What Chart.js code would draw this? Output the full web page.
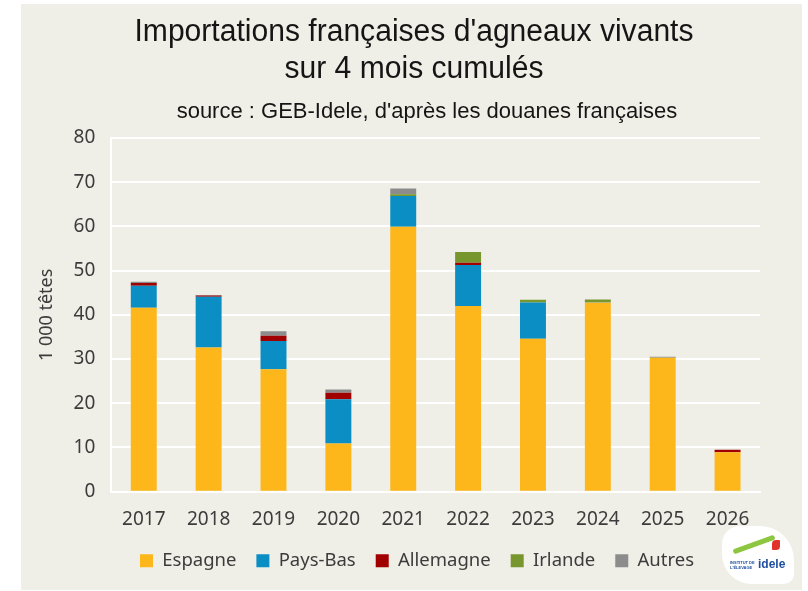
<!DOCTYPE html>
<html>
<head>
<meta charset="utf-8">
<script src="https://cdn.jsdelivr.net/npm/chart.js@4.4.1/dist/chart.umd.min.js"></script>
<style>
  body { margin: 0; background: #fff; }
  #panel { position: absolute; left: 21px; top: 4px; width: 781px; height: 586px; background: #efefe7; }
  .ttl { position: absolute; white-space: nowrap; color: #151515; font-family: 'Liberation Sans', sans-serif;
         transform: translateX(-50%) scaleX(0.97); }
  #t1 { left: 414px; top: 13px; font-size: 31px; }
  #t2 { left: 414px; top: 50px; font-size: 31px; }
  #t3 { left: 427px; top: 98px; font-size: 22px; transform: translateX(-50%); }
  #logo { position: absolute; left: 722px; top: 526px; width: 72px; height: 58px; background: #fff;
          border-radius: 18px 34px 10px 30px; font: bold 12px 'Liberation Sans', sans-serif; color: #1f4fa0; }
  #logo span { position: absolute; left: 36px; top: 31px; }
  #logo i { position: absolute; left: 10px; top: 16px; width: 44px; height: 5px; background: #8dc63f;
            transform: rotate(-20deg); border-radius: 3px; }
  #logo b { position: absolute; left: 50px; top: 14px; width: 8px; height: 10px; background: #e0312b; border-radius: 4px 1px; }
  #logo em { position: absolute; left: 8px; top: 34px; font: bold 4px 'Liberation Sans', sans-serif; color: #1f4fa0; font-style: normal; }
</style>
</head>
<body>
<div id="panel"><canvas id="c" width="781" height="586"></canvas></div>
<div class="ttl" id="t1">Importations françaises d'agneaux vivants</div>
<div class="ttl" id="t2">sur 4 mois cumulés</div>
<div class="ttl" id="t3">source : GEB-Idele, d'après les douanes françaises</div>
<div id="logo"><i></i><b></b><em>INSTITUT DE<br>L'ÉLEVAGE</em><span>idele</span></div>
<script>
// --- Data ---
const years = ['2017', '2018', '2019', '2020', '2021', '2022', '2023', '2024', '2025', '2026'];
const espagne   = [41.6, 32.6, 27.7, 10.9, 59.9, 42.0, 34.6, 42.8, 30.3, 8.9];
const paysBas   = [5.0, 11.5, 6.4, 10.0, 7.0, 9.3, 8.2, 0.1, 0, 0];
const allemagne = [0.6, 0.3, 1.2, 1.5, 0, 0.5, 0, 0, 0, 0.6];
const irlande   = [0, 0, 0, 0, 0.4, 2.4, 0.6, 0.6, 0, 0];
const autres    = [0.3, 0.1, 1.0, 0.7, 1.3, 0, 0, 0, 0.2, 0];

const seriesNames = ['Espagne', 'Pays-Bas', 'Allemagne', 'Irlande', 'Autres'];
const seriesColors = ['#fdb71a', '#0b8ec4', '#a00000', '#77962d', '#8c8c8c'];
const seriesData = [espagne, paysBas, allemagne, irlande, autres];

const textColor = '#3c3c3c';
const tickFont = { family: "'Noto Sans', sans-serif", size: 19 };

// nudge the legend so it sits where the original has it
const legendShift = {
    id: 'legendShift',
    afterLayout(chart) {
        const lg = chart.legend;
        lg.left += 21; lg.right += 21;
        lg.top -= 7; lg.bottom -= 7;
    }
};

const ctx = document.getElementById('c').getContext('2d');

new Chart(ctx, {
    type: 'bar',
    data: {
        labels: years,
        datasets: seriesData.map((d, i) => ({
            label: seriesNames[i],
            data: d,
            backgroundColor: seriesColors[i],
            borderWidth: 0,
            barPercentage: 0.8,
            categoryPercentage: 0.5
        }))
    },
    options: {
        responsive: false,
        animation: false,
        layout: { padding: { left: 11, right: 42, top: 134, bottom: 3 } },
        scales: {
            x: {
                stacked: true,
                grid: { display: false },
                border: { color: '#ffffff', width: 2 },
                ticks: { color: textColor, font: tickFont, padding: 8 }
            },
            y: {
                stacked: true,
                min: 0,
                max: 80,
                grid: { color: '#ffffff', lineWidth: 2, drawTicks: false },
                border: { color: '#ffffff', width: 2 },
                ticks: { stepSize: 10, color: textColor, font: tickFont, padding: 16 },
                title: {
                    display: true,
                    text: '1 000 têtes',
                    color: textColor,
                    font: { family: "'Noto Sans', sans-serif", size: 18 },
                    padding: { bottom: 0 }
                }
            }
        },
        plugins: {
            legend: {
                position: 'bottom',
                labels: {
                    color: textColor,
                    font: { family: "'Noto Sans', sans-serif", size: 18.5 },
                    boxWidth: 13,
                    boxHeight: 13,
                    padding: 20
                }
            },
            tooltip: { enabled: false }
        }
    },
    plugins: [legendShift]
});
</script>
</body>
</html>
